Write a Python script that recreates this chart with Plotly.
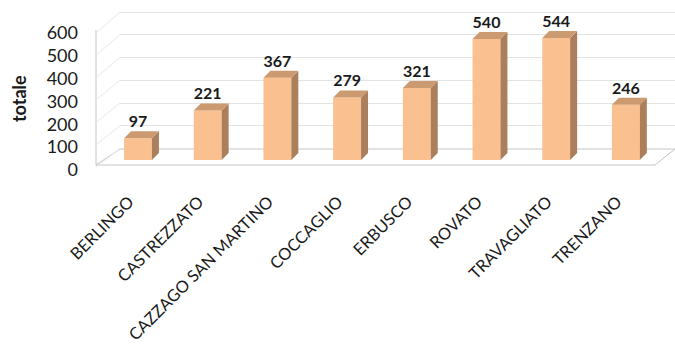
import plotly.graph_objects as go

categories = ["BERLINGO", "CASTREZZATO", "CAZZAGO SAN MARTINO", "COCCAGLIO",
              "ERBUSCO", "ROVATO", "TRAVAGLIATO", "TRENZANO"]
values = [97, 221, 367, 279, 321, 540, 544, 246]
y_ticks = [0, 100, 200, 300, 400, 500, 600]
y_title = "totale"

FRONT = "#FAC090"
SIDE = "#AB7F5C"
TOP = "#CB9A70"
FONT = "Lato"
TXT = "#1a1a1a"

W, H = 675, 345
L, R, T, B = 96, 0, 10, 173
plot_w = W - L - R
plot_h = H - T - B
bottom_px = H - B  # 172

# bars axis: value 0 at pixel 160
bar_scale = 122 / 544.0
bar_zero_px = 160
y2_range = [(bar_zero_px - bottom_px) / bar_scale, (bar_zero_px - T) / bar_scale]
# back-wall grid axis: 0 at 148.5, 600 at 12
grid_scale = (148.5 - 12) / 600.0
grid_zero_px = 148.5
y_range = [(grid_zero_px - bottom_px) / grid_scale, (grid_zero_px - T) / grid_scale]
# tick-label axis: 0 at 170, 600 at 33
lab_scale = (170 - 33) / 600.0
lab_zero_px = 170
y3_range = [(lab_zero_px - bottom_px) / lab_scale, (lab_zero_px - T) / lab_scale]

spacing = 69.7
first_px = 138
x2_range = [(L - first_px) / spacing, (W - R - first_px) / spacing]
lab_shift = 9 / spacing
x3_range = [x2_range[0] + lab_shift, x2_range[1] + lab_shift]
back_left_px = 120
x_dom0 = (back_left_px - L) / plot_w

half = 0.2
dx = 7 / spacing
dy = 7 / bar_scale

idx = list(range(len(categories)))

fig = go.Figure()

fig.add_trace(go.Scatter(x=[0, 1], y=[0, 0], mode="none", xaxis="x", yaxis="y",
                         hoverinfo="skip", showlegend=False))
fig.add_trace(go.Scatter(x=idx, y=[0] * len(idx), mode="none", xaxis="x3", yaxis="y3",
                         hoverinfo="skip", showlegend=False))

fig.add_trace(go.Bar(x=idx, y=values, width=2 * half, marker=dict(color=FRONT, line=dict(width=0)),
                     xaxis="x2", yaxis="y2", showlegend=False, hoverinfo="skip"))

for i, v in zip(idx, values):
    fig.add_trace(go.Scatter(
        x=[i + half, i + half + dx, i + half + dx, i + half, i + half],
        y=[0, dy, v + dy, v, 0],
        fill="toself", fillcolor=SIDE, mode="lines", line=dict(width=0, color=SIDE),
        xaxis="x2", yaxis="y2", showlegend=False, hoverinfo="skip"))
    fig.add_trace(go.Scatter(
        x=[i - half, i + half, i + half + dx, i - half + dx, i - half],
        y=[v, v, v + dy, v + dy, v],
        fill="toself", fillcolor=TOP, mode="lines", line=dict(width=0, color=TOP),
        xaxis="x2", yaxis="y2", showlegend=False, hoverinfo="skip"))

fig.add_trace(go.Scatter(
    x=idx, y=[v + dy for v in values], mode="text", text=[str(v) for v in values],
    textposition="top center", textfont=dict(family=FONT, size=16, color=TXT, weight="bold"),
    xaxis="x2", yaxis="y2", showlegend=False, hoverinfo="skip", cliponaxis=False))

def py(p):
    return (bottom_px - p) / plot_h

shapes = []
floor_right_front = 655
shapes.append(dict(type="path", xref="paper", yref="paper", layer="below",
                   path=f"M 0 {py(165)} L {(floor_right_front - L) / plot_w} {py(165)} L 1 {py(149)} L {x_dom0} {py(149)} Z",
                   line=dict(color="#c4c4c4", width=1), fillcolor="rgba(0,0,0,0)"))
shapes.append(dict(type="line", xref="paper", yref="paper", layer="below",
                   x0=0, x1=0, y0=py(165), y1=py(30), line=dict(color="#c4c4c4", width=1)))
for t in y_ticks:
    front_p = 167 - t * (134 / 600.0)
    back_p = grid_zero_px - t * grid_scale
    shapes.append(dict(type="line", xref="paper", yref="paper", layer="below",
                       x0=0, x1=x_dom0, y0=py(front_p), y1=py(back_p),
                       line=dict(color="#e8e8e8", width=1)))

fig.update_layout(
    width=W, height=H,
    margin=dict(l=L, r=R, t=T, b=B, autoexpand=False),
    paper_bgcolor="white", plot_bgcolor="rgba(0,0,0,0)",
    font=dict(family=FONT, color=TXT),
    hovermode=False,
    xaxis=dict(domain=[x_dom0, 1], range=[0, 1], visible=False, anchor="y", fixedrange=True),
    yaxis=dict(domain=[0, 1], range=y_range, anchor="x", showgrid=True, gridcolor="#e3e3e3",
               gridwidth=1, tickvals=y_ticks, showticklabels=False, zeroline=False,
               showline=False, ticks=""),
    xaxis2=dict(domain=[0, 1], range=x2_range, anchor="y2", showticklabels=False,
                showgrid=False, zeroline=False, showline=False, ticks=""),
    yaxis2=dict(domain=[0, 1], range=y2_range, anchor="x2", showticklabels=False,
                showgrid=False, zeroline=False, showline=False, ticks=""),
    xaxis3=dict(overlaying="x2", range=x3_range, anchor="y2", tickvals=idx, ticktext=categories,
                tickangle=-45, tickfont=dict(family=FONT, size=16.5, color=TXT), showgrid=False,
                zeroline=False, showline=False, ticks="", ticklabelstandoff=16,
                automargin=False, side="bottom"),
    yaxis3=dict(overlaying="y2", range=y3_range, anchor="x2", tickvals=y_ticks,
                tickfont=dict(family=FONT, size=18, color=TXT), showgrid=False, zeroline=False,
                showline=False, ticks="", ticklabelstandoff=17, automargin=False, side="left"),
    shapes=shapes,
    annotations=[dict(text=y_title, xref="paper", yref="paper", x=(19 - L) / plot_w,
                      y=py(99), xanchor="center", yanchor="middle", textangle=-90,
                      showarrow=False,
                      font=dict(family=FONT, size=18, color=TXT, weight="bold"))],
)

fig.write_html("out.html", config={"displayModeBar": False, "staticPlot": True},
               post_script="document.body.style.margin='0';document.body.style.overflow='hidden';")
